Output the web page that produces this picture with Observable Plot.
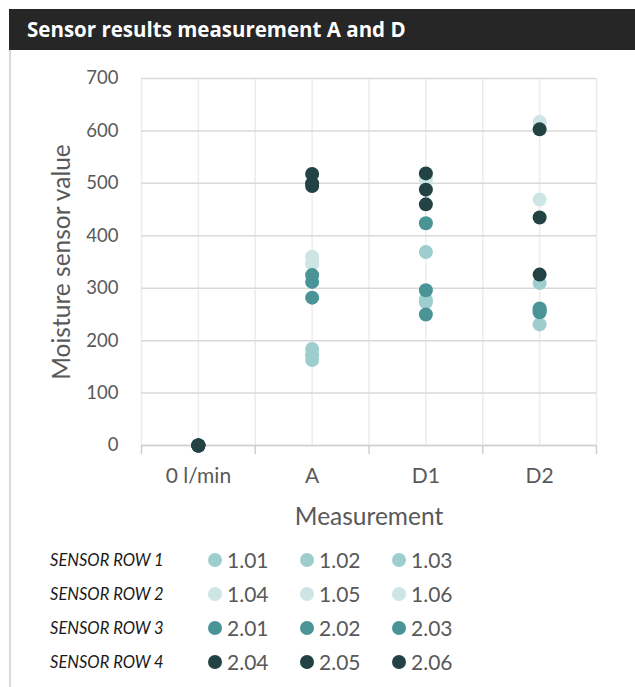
<!DOCTYPE html>
<html>
<head>
<meta charset="utf-8">
<script src="https://cdn.jsdelivr.net/npm/d3@7"></script>
<script src="https://cdn.jsdelivr.net/npm/@observablehq/plot@0.6"></script>
<style>
  html, body { margin: 0; padding: 0; background: #fff; }
  body { width: 635px; height: 687px; position: relative; overflow: hidden; font-family: Lato, "Open Sans", sans-serif; }
  #frame { position: absolute; left: 9px; top: 50px; width: 2px; height: 637px; background: #d9d9d9; }
  #title { position: absolute; left: 9px; top: 9px; width: 626px; height: 41px; background: #262626; color: #fff;
           font-family: "Open Sans", sans-serif; font-weight: bold; font-size: 20.5px; line-height: 41px; box-sizing: border-box; padding-left: 18px; }
  #chart { position: absolute; left: 0; top: 50px; }
  #legend { position: absolute; left: 0; top: 543px; width: 635px; }
  .lrow { position: absolute; left: 0; height: 34px; width: 635px; }
  .lname { position: absolute; left: 50px; top: 0; font-family: Lato, sans-serif; font-style: italic; font-size: 16.5px; line-height: 34px; color: #1a1a1a; }
  .litem { position: absolute; top: 0; line-height: 34px; font-size: 21px; color: #595959; }
  .ldot { position: absolute; width: 14px; height: 14px; border-radius: 50%; top: 10px; left: -7px; }
  .ltext { position: absolute; left: 12px; white-space: nowrap; }
</style>
</head>
<body>
<div id="title">Sensor results measurement A and D</div>
<div id="frame"></div>
<div id="chart"></div>
<div id="legend"></div>
<script>
// ---- data ----
const categories = ["0 l/min", "A", "D1", "D2"];
const sensors = ["1.01", "1.02", "1.03", "1.04", "1.05", "1.06", "2.01", "2.02", "2.03", "2.04", "2.05", "2.06"];
const sensorRow = [1, 1, 1, 2, 2, 2, 3, 3, 3, 4, 4, 4];
const rowLabels = ["SENSOR ROW 1", "SENSOR ROW 2", "SENSOR ROW 3", "SENSOR ROW 4"];
const rowColors = ["#9ecdce", "#cde5e5", "#4a9497", "#224244"];
// values per measurement, one per sensor (same order as sensors)
const flow0 = [0, 0, 0, 0, 0, 0, 0, 0, 0, 0, 0, 0];
const measA = [184, 172, 163, 360, 350, 346, 325, 312, 282, 518, 500, 495];
const measD1 = [369, 273, 278, 512, 505, 490, 424, 296, 250, 519, 488, 460];
const measD2 = [310, 262, 231, 617, 469, 615, 261, 254, 257, 603, 435, 326];
const yTicks = [0, 100, 200, 300, 400, 500, 600, 700];

const series = [flow0, measA, measD1, measD2];
const points = [];
sensors.forEach((s, i) => {
  series.forEach((vals, c) => {
    points.push({sensor: s, row: sensorRow[i], cat: c + 1, value: vals[i]});
  });
});
const halfSteps = d3.range(0.5, categories.length + 0.51, 0.5);
const boundaries = d3.range(0.5, categories.length + 0.51, 1);

const chart = Plot.plot({
  width: 635,
  height: 490,
  marginLeft: 141,
  marginRight: 39,
  marginTop: 28,
  marginBottom: 95,
  style: {fontFamily: "Lato, sans-serif", color: "#595959", background: "transparent"},
  x: {domain: [0.5, categories.length + 0.5]},
  y: {domain: [0, 700]},
  marks: [
    Plot.gridX(halfSteps, {stroke: "#ececec", strokeOpacity: 1, strokeWidth: 1.5}),
    Plot.gridY(yTicks, {stroke: "#d9d9d9", strokeOpacity: 1, strokeWidth: 1.5}),
    Plot.ruleY([0], {stroke: "#d0d0d0", strokeWidth: 1.5}),
    Plot.axisY(yTicks, {tickSize: 0, tickPadding: 23, fontSize: 18.5, label: null}),
    Plot.axisX(boundaries, {tickSize: 9, tickFormat: () => "", stroke: "#d0d0d0", strokeWidth: 1.5, label: null}),
    Plot.axisX(d3.range(1, categories.length + 1), {tickSize: 0, tickPadding: 23, fontSize: 21, tickFormat: d => categories[d - 1], label: null}),
    Plot.text(["Moisture sensor value"], {frameAnchor: "left", dx: -79, rotate: -90, textAnchor: "middle", fontSize: 24.5, fill: "#595959"}),
    Plot.text(["Measurement"], {frameAnchor: "bottom", dy: 79, fontSize: 24.5, fill: "#595959"}),
    Plot.dot(points, {x: "cat", y: "value", r: 7, fill: d => rowColors[d.row - 1], stroke: "none"})
  ]
});
document.getElementById("chart").appendChild(chart);

// ---- legend ----
const legend = document.getElementById("legend");
const rowTops = [0, 34, 68, 102];
const itemX = [215, 307, 399];
rowLabels.forEach((lab, r) => {
  const row = document.createElement("div");
  row.className = "lrow";
  row.style.top = rowTops[r] + "px";
  const name = document.createElement("div");
  name.className = "lname";
  name.textContent = lab;
  row.appendChild(name);
  sensors.filter((s, i) => sensorRow[i] === r + 1).forEach((s, k) => {
    const item = document.createElement("div");
    item.className = "litem";
    item.style.left = itemX[k] + "px";
    const dot = document.createElement("div");
    dot.className = "ldot";
    dot.style.background = rowColors[r];
    const t = document.createElement("span");
    t.className = "ltext";
    t.textContent = s;
    item.appendChild(dot);
    item.appendChild(t);
    row.appendChild(item);
  });
  legend.appendChild(row);
});
</script>
</body>
</html>
